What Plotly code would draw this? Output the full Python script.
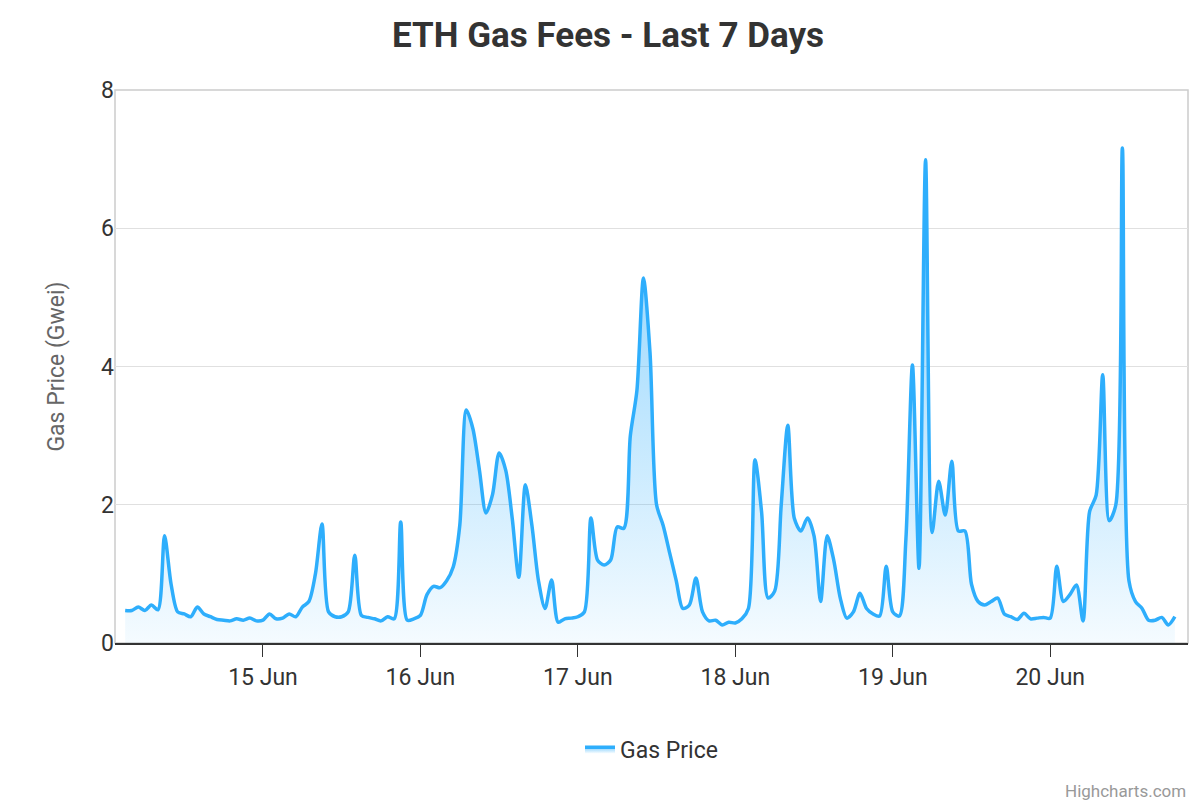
import pandas as pd
import plotly.graph_objects as go

# hourly gas price (Gwei), starting 14 Jun 03:00
start = "2024-06-14 03:00"
gas_price = [
    0.47, 0.47, 0.52, 0.47, 0.55, 0.48, 1.55, 0.85, 0.45, 0.42, 0.38, 0.52, 0.42, 0.38, 0.34, 0.33,
    0.32, 0.35, 0.33, 0.36, 0.32,
    # 15 Jun
    0.33, 0.42, 0.35, 0.36, 0.42, 0.38, 0.52, 0.6, 1.0, 1.72, 0.45, 0.38, 0.38, 0.45, 1.27, 0.4,
    0.37, 0.35, 0.32, 0.38, 0.35, 1.75, 0.33, 0.35,
    # 16 Jun
    0.4, 0.7, 0.82, 0.8, 0.9, 1.1, 1.7, 3.37, 3.1, 2.5, 1.88, 2.15, 2.75, 2.5, 1.8, 0.95,
    2.29, 1.7, 0.9, 0.5, 0.91, 0.3, 0.35, 0.36,
    # 17 Jun
    0.38, 0.45, 1.81, 1.2, 1.13, 1.2, 1.68, 1.66, 3.0, 3.65, 5.28, 4.2, 2.0, 1.7, 1.3, 0.9,
    0.5, 0.55, 0.94, 0.45, 0.32, 0.33, 0.26, 0.3,
    # 18 Jun
    0.29, 0.35, 0.5, 2.65, 1.9, 0.65, 0.75, 2.0, 3.15, 1.8, 1.62, 1.81, 1.55, 0.6, 1.55, 1.2,
    0.65, 0.36, 0.45, 0.72, 0.5, 0.42, 0.39, 1.11,
    # 19 Jun
    0.45, 0.39, 1.5, 4.02, 1.08, 6.99, 1.6, 2.34, 1.85, 2.63, 1.62, 1.62, 0.85, 0.6, 0.55, 0.6,
    0.65, 0.42, 0.38, 0.34, 0.43, 0.35, 0.36, 0.37,
    # 20 Jun
    0.36, 1.11, 0.6, 0.7, 0.84, 0.32, 1.9, 2.14, 3.88, 1.77, 2.0, 7.16, 0.9, 0.6, 0.5, 0.33,
    0.33, 0.37, 0.26, 0.38,
]
times = pd.date_range(start, periods=len(gas_price), freq="h")
day_ticks = pd.date_range("2024-06-15", periods=6, freq="D")
day_labels = [d.strftime("%-d %b") for d in day_ticks]

fig = go.Figure()
fig.add_trace(go.Scatter(
    x=times, y=gas_price, name="Gas Price", mode="lines", showlegend=True,
    line=dict(color="#2eaefc", width=3.5, shape="spline", smoothing=0.8),
    fill="tozeroy",
    fillgradient=dict(type="vertical",
                      colorscale=[[0, "rgba(46,174,252,0.05)"], [1, "rgba(46,174,252,0.6)"]]),
))

# light frame around the plot area
fig.add_shape(type="rect", xref="paper", yref="paper", x0=0, y0=0, x1=1, y1=1,
              line=dict(color="#cccccc", width=1.5), layer="below")

fig.update_layout(
    width=1200, height=800,
    paper_bgcolor="white", plot_bgcolor="white",
    font=dict(family="Roboto", color="#333"),
    title=dict(text="<b>ETH Gas Fees - Last 7 Days</b>", x=0.5, y=0.966, xanchor="center",
               yanchor="middle", font=dict(size=35, color="#333")),
    margin=dict(l=107, r=20, t=82, b=165, autoexpand=False),
    xaxis=dict(range=[pd.Timestamp("2024-06-14 01:27"), pd.Timestamp("2024-06-20 21:00")],
               tickvals=day_ticks, ticktext=day_labels, ticks="outside", ticklen=12,
               tickcolor="#333", showgrid=False, showline=True, linecolor="#333", linewidth=2,
               tickfont=dict(size=23, color="#333"), automargin=False),
    yaxis=dict(range=[0, 8], dtick=2, gridcolor="#e0e0e0", zeroline=False, automargin=False,
               title=dict(text="Gas Price (Gwei)", font=dict(size=23, color="#666"), standoff=30),
               tickfont=dict(size=23, color="#333")),
    legend=dict(orientation="h", x=0.5, xanchor="center", y=-0.192, yanchor="middle",
                font=dict(size=23, color="#333")),
)
fig.add_annotation(text="Highcharts.com", xref="paper", yref="paper", x=1.0, y=-0.268,
                   xanchor="right", yanchor="middle", showarrow=False,
                   font=dict(size=17, color="#999"))

fig.write_html("out.html")
